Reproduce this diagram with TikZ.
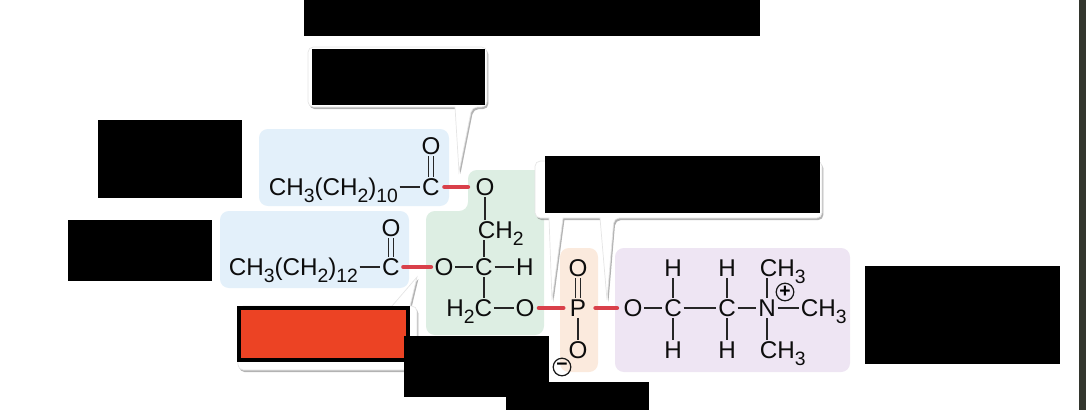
\documentclass[tikz,border=0pt]{standalone}
\usepackage{fontspec}
\setmainfont{Liberation Sans}
\usetikzlibrary{shadows}
\definecolor{bluefill}{HTML}{E3F0FA}
\definecolor{greenfill}{HTML}{DDEEE3}
\definecolor{orangefill}{HTML}{FBEADD}
\definecolor{purplefill}{HTML}{EEE5F3}
\definecolor{linkred}{HTML}{D9404A}
\definecolor{boxred}{HTML}{EC4324}
\definecolor{edgedark}{HTML}{33362E}
\newcommand{\chemsub}[1]{\raisebox{-0.55ex}{\fontsize{11}{12}\selectfont #1}}
\tikzset{
  atom/.style={inner sep=1pt, outer sep=0pt, text height=9.8pt, text depth=0pt,
    font=\fontsize{13.8}{16}\selectfont, text=black!95},
  chain/.style={atom, anchor=west},
  bond/.style={line width=0.7pt, black!85},
  dbond/.style={bond, double=#1, double distance=2.2pt},
  link/.style={line width=2.6pt, linkred, line cap=round},
  charge/.style={circle, draw=black!90, line width=0.7pt, inner sep=0pt, minimum size=10pt,
    font=\fontsize{11}{11}\selectfont\bfseries},
  region/.style={rounded corners=5pt},
  callout/.style={fill=white, draw=black!10, line width=0.4pt, rounded corners=3pt,
    drop shadow={shadow xshift=0.8pt, shadow yshift=-1.2pt, opacity=0.6, fill=black!50}},
}
\begin{document}
\begin{tikzpicture}[x=0.02cm, y=-0.02cm]
\useasboundingbox (0,0) rectangle (1086,410);

% coloured backgrounds
\fill [bluefill, region] (259,129) rectangle (449,206);
\fill [bluefill, region] (220,211) rectangle (409,288);
\fill [greenfill, region] (468,170) -- (544,170) -- (544,335) -- (426,335) -- (426,211) -- (468,211) -- cycle;
\fill [orangefill, region] (560,248) rectangle (598,372);
\fill [purplefill, region] (615,248) rectangle (850,372);
\fill [edgedark] (1079,0) rectangle (1086,410);

% callouts
\path [callout] (308,47) -- (487,47) -- (487,107) -- (472,107) [sharp corners] -- (459,172) -- (455,107)
  [rounded corners=3pt] -- (308,107) -- cycle;
\path [callout] (535,161) -- (822,161) -- (822,218) -- (614,218) [sharp corners] -- (607,300) -- (600,218)
  -- (563,218) -- (552,300) -- (549,218) [rounded corners=3pt] -- (535,218) -- cycle;
\path [callout] (238,306) [sharp corners] -- (392,306) -- (417,277) -- (410,306)
  [rounded corners=3pt] -- (417,306) -- (417,370) -- (238,370) -- cycle;

% redacted labels
\foreach \xa/\ya/\xb/\yb in {304/0/760/36, 312/49/485/105, 98/120/242/198, 68/220/212/281,
    545/156/820/213, 865/266/1060/364, 506/382/649/410}
  \fill [black] (\xa,\ya) rectangle (\xb,\yb);
\filldraw [fill=boxred, draw=black, line width=2.3pt] (239,308) rectangle (408,360);
\fill [black] (404,336) rectangle (549,397);

% upper fatty acid
\node [chain] (chainA) at (267,187) {CH\chemsub{3}(CH\chemsub{2})\chemsub{10}};
\node [atom] (carbA) at (431,187) {C};
\node [atom] (oxoA) at (431,146) {O};
\draw [bond] (chainA) -- (carbA);
\draw [dbond=bluefill] (oxoA) -- (carbA);

% lower fatty acid
\node [chain] (chainB) at (227,267) {CH\chemsub{3}(CH\chemsub{2})\chemsub{12}};
\node [atom] (carbB) at (391,267) {C};
\node [atom] (oxoB) at (391,228) {O};
\draw [bond] (chainB) -- (carbB);
\draw [dbond=bluefill] (oxoB) -- (carbB);

% glycerol
\node [atom] (oxyA) at (485,187) {O};
\node [chain] (glyTop) at (476,230) {CH\chemsub{2}};
\node [atom] (glyMid) at (484,267) {C};
\node [atom] (oxyB) at (444,267) {O};
\node [atom] (hydMid) at (525,267) {H};
\node [anchor=east, atom] (glyLow) at (494,308) {H\chemsub{2}C};
\node [atom] (oxyC) at (525,308) {O};
\draw [bond] (oxyA) -- (oxyA |- glyTop.north);
\draw [bond] (glyMid |- glyTop.south) -- (glyMid);
\draw [bond] (oxyB) -- (glyMid);
\draw [bond] (glyMid) -- (hydMid);
\draw [bond] (glyMid) -- (glyMid |- glyLow.north);
\draw [bond] (glyLow) -- (oxyC);

% phosphate
\node [atom] (phos) at (578,308) {P};
\node [atom] (oxoP) at (578,268) {O};
\node [atom] (oxyP) at (578,350) {O};
\node [charge] (minus) at (562,367) {−};
\draw [dbond=orangefill] (oxoP) -- (phos);
\draw [bond] (phos) -- (oxyP);

% choline
\node [atom] (oxyD) at (633,308) {O};
\foreach \n/\x in {A/673, B/727} {
  \node [atom] (chol\n) at (\x,308) {C};
  \node [atom] (hydUp\n) at (\x,268) {H};
  \node [atom] (hydDn\n) at (\x,350) {H};
  \draw [bond] (hydUp\n) -- (chol\n);
  \draw [bond] (chol\n) -- (hydDn\n);
}
\node [atom] (nitro) at (767,308) {N};
\node [chain] (methUp) at (758,268) {CH\chemsub{3}};
\node [chain] (methRt) at (799,308) {CH\chemsub{3}};
\node [chain] (methDn) at (758,350) {CH\chemsub{3}};
\node [charge] (plus) at (785,292) {+};
\draw [bond] (oxyD) -- (cholA);
\draw [bond] (cholA) -- (cholB);
\draw [bond] (cholB) -- (nitro);
\draw [bond] (nitro) -- (methRt);
\draw [bond] (nitro) -- (nitro |- methUp.south);
\draw [bond] (nitro) -- (nitro |- methDn.north);

% ester and phosphoester links
\draw [link] ([xshift=1.7pt]carbA.east) -- ([xshift=-3.4pt]oxyA.west);
\draw [link] ([xshift=1.1pt]carbB.east) -- ([xshift=-1.1pt]oxyB.west);
\draw [link] ([xshift=1.6pt]oxyC.east) -- ([xshift=-2.8pt]phos.west);
\draw [link] ([xshift=4.4pt]phos.east) -- ([xshift=-2.8pt]oxyD.west);
\end{tikzpicture}
\end{document}
